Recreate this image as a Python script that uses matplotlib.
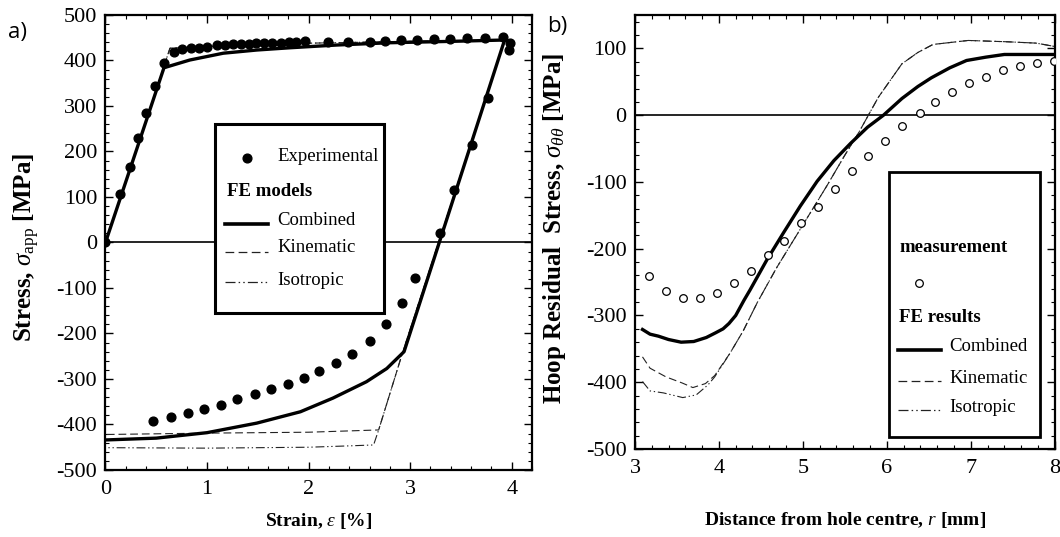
"""cyclic stress-strain loop (a) and hoop residual stress around a cold-expanded hole (b)"""
import matplotlib
matplotlib.use('Agg')
import matplotlib.pyplot as plt
from matplotlib.patches import Rectangle
from matplotlib.ticker import MultipleLocator

plt.rcParams['font.family'] = ['Liberation Serif', 'DejaVu Serif']
plt.rcParams['mathtext.fontset'] = 'custom'
plt.rcParams['mathtext.rm'] = 'Liberation Serif'
plt.rcParams['mathtext.it'] = 'Liberation Serif:italic'
plt.rcParams['mathtext.bf'] = 'Liberation Serif:bold'
plt.rcParams['axes.unicode_minus'] = False

# a) 实验点 (strain %, stress MPa)
exp_strain = [0, 0.146, 0.237, 0.32, 0.40, 0.49, 0.58,
              0.67, 0.75, 0.84, 0.92, 1.00, 1.10, 1.18, 1.26, 1.33, 1.41, 1.48,
              1.56, 1.64, 1.73, 1.81, 1.88, 1.96, 2.19, 2.39, 2.60, 2.75, 2.91,
              3.07, 3.23, 3.39, 3.56, 3.74, 3.91, 3.98, 3.97,
              3.77, 3.61, 3.43, 3.29, 3.05, 2.92, 2.76, 2.60, 2.43, 2.27, 2.10,
              1.95, 1.80, 1.63, 1.47, 1.30, 1.14, 0.97, 0.81, 0.65, 0.47]
exp_stress = [0, 106, 166, 229, 285, 343, 394,
              419, 425, 427, 428, 430, 433, 434, 436, 436, 437, 438,
              438, 438, 439, 440, 441, 442, 440, 441, 441, 443, 444,
              446, 447, 448, 449, 450, 452, 439, 422,
              318, 214, 115, 20, -79, -132, -179, -216, -244, -265, -282,
              -297, -312, -323, -334, -345, -357, -366, -374, -383, -392]

# a) FE models
comb_strain = [0, 0.576, 0.83, 1.16, 1.49, 1.82, 2.28, 2.8, 3.4, 3.93,
               2.94, 2.77, 2.57, 2.24, 1.92, 1.49, 1.0, 0.5, 0]
comb_stress = [0, 384, 401, 416, 423, 428, 434, 439, 442, 445,
               -240, -277, -306, -342, -372, -397, -418, -430, -434]
kin_strain = [0, 0.635, 1.0, 2.0, 3.0, 3.93, 2.92, 2.69, 2.0, 1.0, 0]
kin_stress = [0, 427, 431, 438, 442, 445, -246, -412, -417, -419, -422]
iso_strain = [0, 0.635, 1.0, 2.0, 3.0, 3.93, 2.92, 2.69, 2.64, 2.4, 2.0, 1.0, 0]
iso_stress = [0, 427, 431, 438, 442, 445, -246, -412, -445, -447, -450, -452, -451]

# b) 测量点 (r mm, hoop stress MPa)
meas_r = [3.17, 3.37, 3.57, 3.78, 3.98, 4.18, 4.38, 4.58, 4.78, 4.98, 5.18,
          5.38, 5.58, 5.78, 5.98, 6.18, 6.39, 6.57, 6.78, 6.98, 7.18, 7.39,
          7.59, 7.79, 7.99]
meas_s = [-241, -263, -274, -274, -266, -252, -234, -210, -188, -162, -137,
          -110, -84, -61, -38, -16, 3, 20, 35, 48, 58, 67, 73, 78, 81]

# b) FE results
res_comb_r = [3.09, 3.18, 3.28, 3.40, 3.55, 3.70, 3.85, 3.96, 4.05, 4.12, 4.20,
              4.30, 4.37, 4.57, 4.77, 4.97, 5.17, 5.37, 5.57, 5.77, 5.96, 6.18,
              6.37, 6.53, 6.75, 6.95, 7.18, 7.40, 8.0]
res_comb_s = [-321, -328, -331, -336, -340, -339, -333, -326, -320, -312, -300,
              -277, -262, -217, -176, -136, -99, -68, -42, -18, 0, 25,
              43, 56, 71, 82, 87, 91, 91]
res_kin_r = [3.09, 3.18, 3.37, 3.56, 3.69, 3.84, 3.95, 4.13, 4.29, 4.46, 4.69,
             4.89, 5.09, 5.29, 5.49, 5.67, 5.90, 6.18, 6.37, 6.55, 6.97, 7.44,
             7.78, 8.0]
res_kin_s = [-362, -379, -392, -401, -408, -402, -390, -357, -323, -280, -228,
             -187, -146, -105, -62, -25, 27, 77, 94, 106, 112, 110,
             108, 103]
res_iso_r = [3.09, 3.18, 3.34, 3.57, 3.73, 3.87, 3.95] + res_kin_r[7:]
res_iso_s = [-399, -413, -416, -423, -419, -404, -392] + res_kin_s[7:]

kin_ls = (0, (7, 3.5))
iso_ls = (0, (8, 2.5, 1.2, 2.5, 1.2, 2.5))
thin = '#222222'
serif = 'Liberation Serif'
tick_fs = 16
xlabel_fs = 14
ylabel_fs = 18
key_fs = 13.5


def style_axes(ax):
    for s in ax.spines.values():
        s.set_linewidth(1.6)
    ax.tick_params(which='both', direction='in', top=True, right=True,
                   labelsize=tick_fs, labelfontfamily=serif)
    ax.tick_params(which='major', length=6, width=1.0)
    ax.tick_params(which='minor', length=3, width=0.8)
    ax.tick_params(axis='x', pad=7)
    ax.tick_params(axis='y', pad=6)
    ax.axhline(0, color='black', lw=1.2, zorder=1)


def key_line(ax, x0, x1, y, color='black', **kw):
    ax.plot([x0, x1], [y, y], transform=ax.transAxes, clip_on=False, color=color,
            zorder=6, **kw)


def key_text(ax, x, y, s, bold=False):
    ax.text(x, y, s, transform=ax.transAxes, fontsize=key_fs, va='center', ha='left',
            family=serif, fontweight='bold' if bold else 'normal', zorder=7)


fig = plt.figure(figsize=(10.6, 5.37), dpi=100)
ax1 = fig.add_axes([0.0995, 0.1248, 0.4024, 0.8473])
ax2 = fig.add_axes([0.599, 0.1639, 0.396, 0.808])

# ---- a) ----
ax1.plot(iso_strain, iso_stress, color=thin, lw=0.8, ls=iso_ls, zorder=2)
ax1.plot(kin_strain, kin_stress, color=thin, lw=0.8, ls=kin_ls, zorder=2)
ax1.plot(comb_strain, comb_stress, color='black', lw=2.4, zorder=3)
ax1.plot(exp_strain, exp_stress, 'o', color='black', ms=6.3, zorder=4)
ax1.set_xlim(0, 4.2)
ax1.set_ylim(-500, 500)
ax1.xaxis.set_major_locator(MultipleLocator(1))
ax1.xaxis.set_minor_locator(MultipleLocator(0.2))
ax1.yaxis.set_major_locator(MultipleLocator(100))
ax1.yaxis.set_minor_locator(MultipleLocator(20))
style_axes(ax1)
ax1.set_xlabel(r'Strain, $\varepsilon$ [%]', fontsize=xlabel_fs, fontweight='bold', family=serif)
ax1.set_ylabel(r'Stress, $\sigma_{\rm app}$ [MPa]', fontsize=ylabel_fs, fontweight='bold',
               family=serif)
ax1.xaxis.set_label_coords(0.5, -0.09)
ax1.yaxis.set_label_coords(-0.149, 0.49)

ax1.add_patch(Rectangle((0.256, 0.344), 0.396, 0.416, transform=ax1.transAxes,
                        facecolor='white', edgecolor='black', lw=2.2, zorder=5))
ax1.plot([0.331], [0.686], 'o', color='black', ms=6.3, transform=ax1.transAxes, zorder=6)
key_text(ax1, 0.403, 0.690, 'Experimental')
key_text(ax1, 0.284, 0.612, 'FE models', bold=True)
key_line(ax1, 0.280, 0.381, 0.541, lw=2.6)
key_text(ax1, 0.403, 0.548, 'Combined')
key_line(ax1, 0.280, 0.381, 0.479, color=thin, lw=0.9, ls=kin_ls)
key_text(ax1, 0.403, 0.488, 'Kinematic')
key_line(ax1, 0.280, 0.381, 0.413, color=thin, lw=0.9, ls=iso_ls)
key_text(ax1, 0.403, 0.417, 'Isotropic')

# ---- b) ----
ax2.plot(res_iso_r, res_iso_s, color=thin, lw=0.8, ls=iso_ls, zorder=2)
ax2.plot(res_kin_r, res_kin_s, color=thin, lw=0.8, ls=kin_ls, zorder=2)
ax2.plot(res_comb_r, res_comb_s, color='black', lw=2.4, zorder=3)
ax2.plot(meas_r, meas_s, 'o', mfc='white', mec='black', mew=0.9, ms=5.5, zorder=4)
ax2.set_xlim(3, 8)
ax2.set_ylim(-500, 150)
ax2.xaxis.set_major_locator(MultipleLocator(1))
ax2.xaxis.set_minor_locator(MultipleLocator(0.2))
ax2.set_yticks(range(-500, 101, 100))
ax2.yaxis.set_minor_locator(MultipleLocator(20))
style_axes(ax2)
ax2.set_xlabel(r'Distance from hole centre, $r$ [mm]', fontsize=xlabel_fs, fontweight='bold',
               family=serif)
ax2.set_ylabel(r'Hoop Residual  Stress, $\sigma_{\theta\theta}$ [MPa]',
               fontsize=ylabel_fs, fontweight='bold', family=serif)
ax2.xaxis.set_label_coords(0.5, -0.14)
ax2.yaxis.set_label_coords(-0.159, 0.509)

ax2.add_patch(Rectangle((0.605, 0.028), 0.359, 0.610, transform=ax2.transAxes,
                        facecolor='white', edgecolor='black', lw=2.0, zorder=5))
key_text(ax2, 0.629, 0.465, 'measurement', bold=True)
ax2.plot([0.676], [0.383], 'o', mfc='white', mec='black', mew=0.9, ms=5.5,
         transform=ax2.transAxes, zorder=6)
key_text(ax2, 0.629, 0.304, 'FE results', bold=True)
key_line(ax2, 0.627, 0.729, 0.229, lw=2.6)
key_text(ax2, 0.749, 0.236, 'Combined')
key_line(ax2, 0.627, 0.729, 0.157, color=thin, lw=0.9, ls=kin_ls)
key_text(ax2, 0.749, 0.162, 'Kinematic')
key_line(ax2, 0.627, 0.729, 0.091, color=thin, lw=0.9, ls=iso_ls)
key_text(ax2, 0.749, 0.095, 'Isotropic')

# 面板标签
fig.text(0.008, 0.94, 'a)', fontsize=16, family=['Open Sans', 'DejaVu Sans'], va='center')
fig.text(0.516, 0.95, 'b)', fontsize=16, family=['Open Sans', 'DejaVu Sans'], va='center')

fig.savefig('out.png', dpi=100)
